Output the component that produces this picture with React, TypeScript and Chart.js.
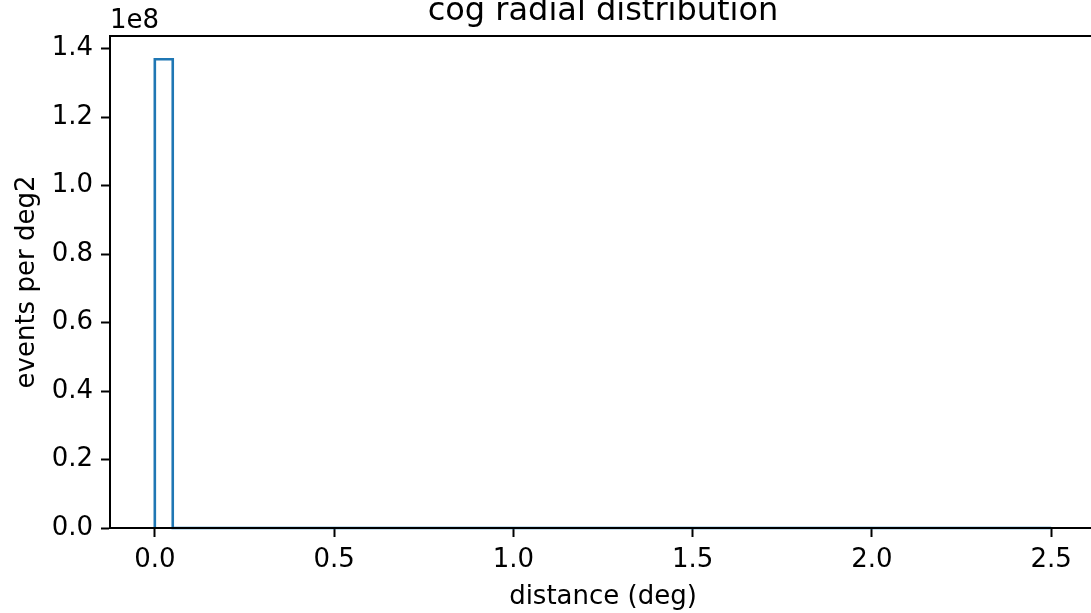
import React, { useEffect, useRef } from "react";
import { Chart, registerables } from "chart.js";

Chart.register(...registerables);

// ---- data ----
const binWidth = 0.05;
const binStart = 0;
// events per deg2 in each 0.05-deg bin (50 bins from 0 to 2.5 deg)
const binCounts: number[] = [
  1.369e8, 0, 0, 0, 0, 0, 0, 0, 0, 0,
  0, 0, 0, 0, 0, 0, 0, 0, 0, 0,
  0, 0, 0, 0, 0, 0, 0, 0, 0, 0,
  0, 0, 0, 0, 0, 0, 0, 0, 0, 0,
  0, 0, 0, 0, 0, 0, 0, 0, 0, 0,
];
const xTickValues = [0, 0.5, 1.0, 1.5, 2.0, 2.5];
const xTickLabels = ["0.0", "0.5", "1.0", "1.5", "2.0", "2.5"];
const yTickValues = [0, 0.2e8, 0.4e8, 0.6e8, 0.8e8, 1.0e8, 1.2e8, 1.4e8];
const yTickLabels = ["0.0", "0.2", "0.4", "0.6", "0.8", "1.0", "1.2", "1.4"];
const titleText = "cog radial distribution";
const offsetText = "1e8";
const xTitle = "distance (deg)";
const yTitle = "events per deg2";

const FONT = "'DejaVu Sans', 'Liberation Sans', sans-serif";

export default function App() {
  const canvasRef = useRef<HTMLCanvasElement | null>(null);

  useEffect(() => {
    const canvas = canvasRef.current;
    if (!canvas) return;

    // step outline points (matplotlib histtype='step'):
    // start at (left edge, 0), then each bin's level held until the next edge
    const pts: { x: number; y: number }[] = [{ x: binStart, y: 0 }];
    binCounts.forEach((c, i) => pts.push({ x: binStart + i * binWidth, y: c }));
    pts.push({ x: binStart + binCounts.length * binWidth, y: 0 });

    const decorations = {
      id: "decorations",
      afterDraw(chart: any) {
        const { ctx, chartArea } = chart;
        ctx.save();
        // top + right spines
        ctx.strokeStyle = "#000";
        ctx.lineWidth = 2;
        ctx.beginPath();
        ctx.moveTo(chartArea.left - 1, chartArea.top);
        ctx.lineTo(chartArea.right + 1, chartArea.top);
        ctx.moveTo(chartArea.right, chartArea.top);
        ctx.lineTo(chartArea.right, chartArea.bottom);
        ctx.stroke();
        // title
        ctx.fillStyle = "#000";
        ctx.font = `32px ${FONT}`;
        ctx.textAlign = "center";
        ctx.textBaseline = "alphabetic";
        ctx.fillText(titleText, (chartArea.left + chartArea.right) / 2, 20);
        // offset text
        ctx.font = `26px ${FONT}`;
        ctx.textAlign = "left";
        ctx.fillText(offsetText, chartArea.left, 28);
        ctx.restore();
      },
    };

    const chart = new Chart(canvas, {
      type: "line",
      data: {
        datasets: [
          {
            data: pts,
            stepped: "before",
            borderColor: "#1f77b4",
            borderWidth: 2.6,
            pointRadius: 0,
            fill: false,
            clip: 6,
          } as any,
        ],
      },
      options: {
        animation: false,
        responsive: false,
        devicePixelRatio: 1,
        layout: { padding: { top: 36, right: 4, left: 0, bottom: 0 } },
        plugins: {
          legend: { display: false },
          tooltip: { enabled: false },
          title: { display: false },
        },
        scales: {
          x: {
            type: "linear",
            min: -0.125,
            max: 2.625,
            afterBuildTicks: (scale: any) => {
              scale.ticks = xTickValues.map((v) => ({ value: v }));
            },
            afterFit: (scale: any) => {
              scale.height = 85;
            },
            grid: {
              drawOnChartArea: false,
              drawTicks: true,
              tickLength: 9,
              tickWidth: 2,
              tickColor: "#000",
            },
            border: { display: true, color: "#000", width: 2, z: 1 },
            ticks: {
              color: "#000",
              font: { family: FONT, size: 26 },
              padding: 8,
              maxRotation: 0,
              autoSkip: false,
              callback: (value: any) => {
                const i = xTickValues.indexOf(Number(value));
                return i >= 0 ? xTickLabels[i] : "";
              },
            },
            title: {
              display: true,
              text: xTitle,
              color: "#000",
              font: { family: FONT, size: 26 },
              padding: { top: 0, bottom: 0 },
            },
          },
          y: {
            type: "linear",
            min: 0,
            max: 1.437e8,
            afterBuildTicks: (scale: any) => {
              scale.ticks = yTickValues.map((v) => ({ value: v }));
            },
            afterFit: (scale: any) => {
              scale.width = 110;
            },
            grid: {
              drawOnChartArea: false,
              drawTicks: true,
              tickLength: 9,
              tickWidth: 2,
              tickColor: "#000",
            },
            border: { display: true, color: "#000", width: 2, z: 1 },
            ticks: {
              color: "#000",
              font: { family: FONT, size: 26 },
              padding: 8,
              autoSkip: false,
              callback: (value: any) => {
                const i = yTickValues.indexOf(Number(value));
                return i >= 0 ? yTickLabels[i] : "";
              },
            },
            title: {
              display: true,
              text: yTitle,
              color: "#000",
              font: { family: FONT, size: 26 },
              padding: { top: 12, bottom: 0 },
            },
          },
        },
      },
      plugins: [decorations],
    } as any);

    return () => chart.destroy();
  }, []);

  return (
    <div
      style={{
        position: "fixed",
        left: 0,
        top: 0,
        width: 1091,
        height: 613,
        overflow: "hidden",
        background: "#fff",
      }}
    >
      <canvas ref={canvasRef} width={1100} height={613} style={{ display: "block" }} />
    </div>
  );
}
